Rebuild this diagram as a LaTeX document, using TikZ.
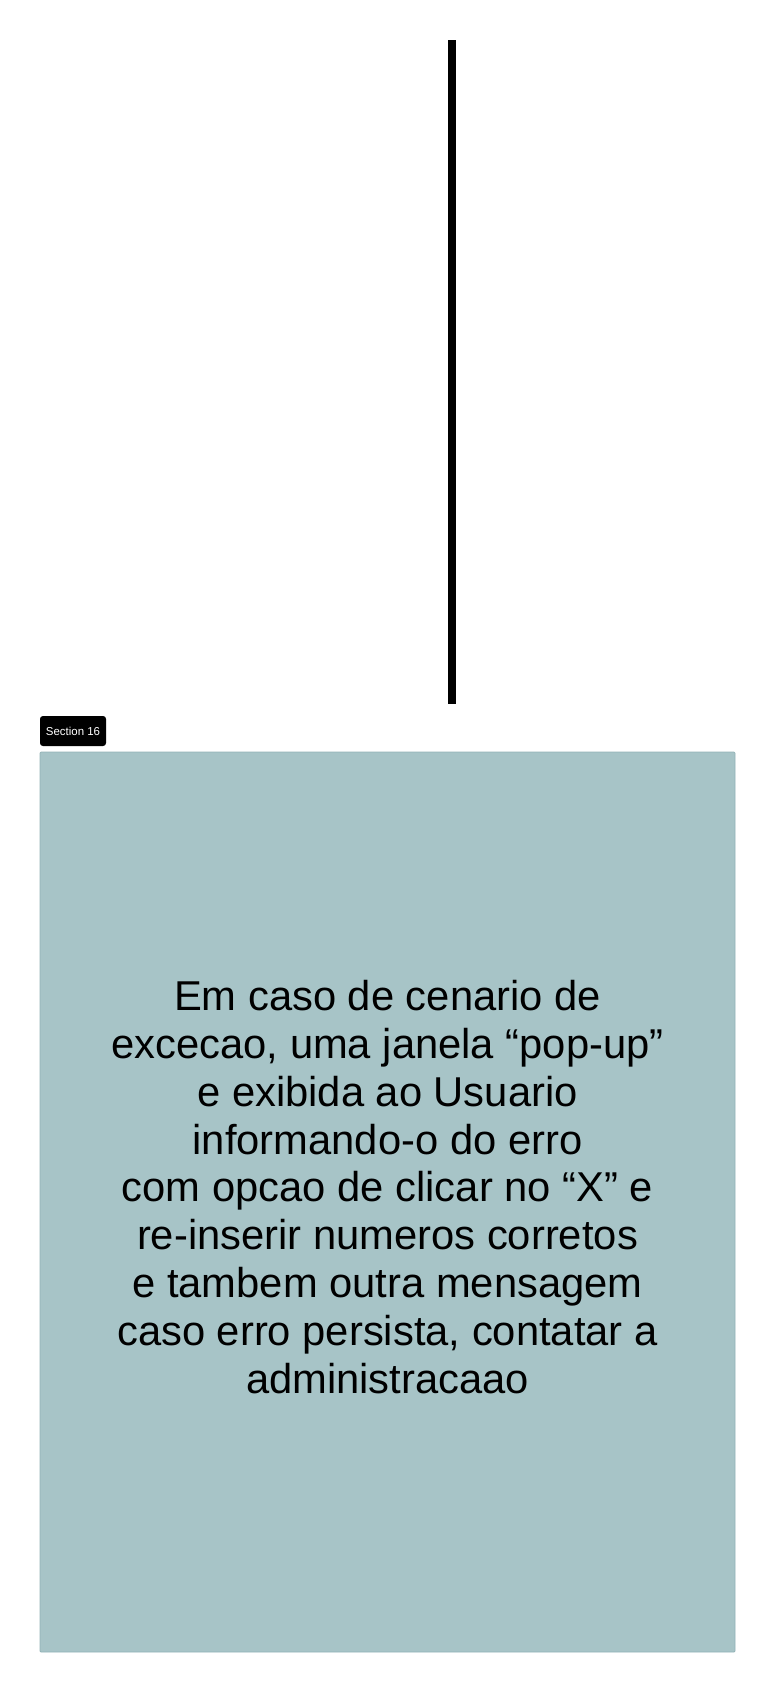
\documentclass[tikz,border=0pt]{standalone}
\usepackage{fontspec}
\setmainfont{Liberation Sans}
\usetikzlibrary{positioning}
\definecolor{sectionfill}{HTML}{A7C4C7}
\definecolor{sectionedge}{HTML}{93B2B6}

\begin{document}
\begin{tikzpicture}[x=0.75pt, y=-0.75pt,
    sectionbox/.style={draw=sectionedge, fill=sectionfill, line width=0.6pt, rounded corners=0.8pt},
    tag/.style={fill=black, text=white, rounded corners=2.2pt, font=\fontsize{8.6}{10}\selectfont, inner sep=0pt, minimum width=49.5pt, minimum height=22.5pt},
    body/.style={align=center, font=\fontsize{31.3}{35.9}\selectfont, text=black}]
    \useasboundingbox (0,0) rectangle (776,1692);
    \coordinate (top) at (452,40);
    \coordinate (bottom) at (452,704);
    \draw[line width=6pt] (top) -- (bottom);
    \node[tag] (label16) at (73,731) {Section 16};
    \draw[sectionbox] (40,752) rectangle (735,1652);
    \node[body] (msg) at (387.5,1187) {Em caso de cenario de\\
      excecao, uma janela “pop-up”\\
      e exibida ao Usuario\\
      informando-o do erro\\
      com opcao de clicar no “X” e\\
      re-inserir numeros corretos\\
      e tambem outra mensagem\\
      caso erro persista, contatar a\\
      administracaao};
  \end{tikzpicture}
\end{document}
